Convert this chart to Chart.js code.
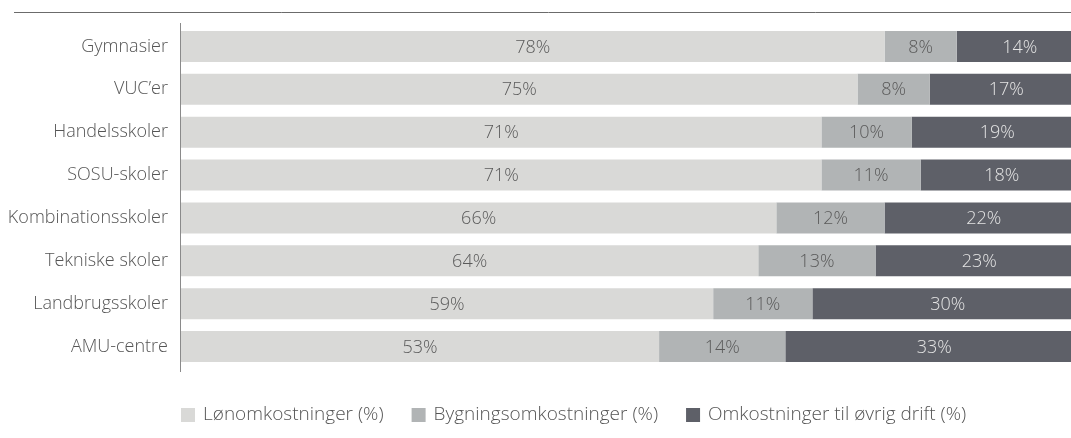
<!DOCTYPE html>
<html>
<head>
<meta charset="utf-8">
<script src="https://cdn.jsdelivr.net/npm/chart.js"></script>
<style>
  html, body { margin: 0; padding: 0; background: #fff; overflow: hidden; }
  #wrap { position: relative; width: 1071px; height: 438px; overflow: hidden; }
  canvas { position: absolute; left: 0; top: 0; }
</style>
</head>
<body>
<div id="wrap"><canvas id="chart" width="1083" height="438"></canvas></div>
<script>
// Chart data
var categories = ['Gymnasier', 'VUC\u2019er', 'Handelsskoler', 'SOSU-skoler', 'Kombinationsskoler', 'Tekniske skoler', 'Landbrugsskoler', 'AMU-centre'];
var seriesNames = ['Lønomkostninger (%)', 'Bygningsomkostninger (%)', 'Omkostninger til øvrig drift (%)'];
var loen = [78, 75, 71, 71, 66, 64, 59, 53];
var bygning = [8, 8, 10, 11, 12, 13, 11, 14];
var oevrig = [14, 17, 19, 18, 22, 23, 30, 33];

var colors = ['#d9d9d7', '#b1b4b5', '#5e6068'];
var labelColors = ['#5a5a5a', '#5a5a5a', '#e4e4e4'];
var fontFamily = '"Open Sans", sans-serif';

// Labels inside bars, axis line, top rule and legend
var decorPlugin = {
    id: 'decor',
    afterDatasetsDraw: function(chart) {
        var ctx = chart.ctx;
        ctx.save();
        ctx.font = '300 18px ' + fontFamily;
        ctx.textAlign = 'center';
        ctx.textBaseline = 'middle';
        chart.data.datasets.forEach(function(ds, di) {
            var meta = chart.getDatasetMeta(di);
            meta.data.forEach(function(bar, i) {
                var p = bar.getProps(['x', 'y', 'base'], true);
                ctx.fillStyle = labelColors[di];
                ctx.fillText(ds.data[i] + '%', (p.x + p.base) / 2, p.y + 1);
            });
        });
        ctx.restore();
    },
    afterDraw: function(chart) {
        var ctx = chart.ctx;
        var area = chart.chartArea;
        ctx.save();
        // top rule
        ctx.strokeStyle = '#6b6b6b';
        ctx.lineWidth = 1;
        ctx.beginPath();
        ctx.moveTo(14, 12.5);
        ctx.lineTo(chart.width, 12.5);
        ctx.stroke();

        // category axis line
        ctx.strokeStyle = '#8a8a8a';
        ctx.beginPath();
        ctx.moveTo(area.left - 0.5, area.top - 2);
        ctx.lineTo(area.left - 0.5, area.bottom + 4);
        ctx.stroke();

        // legend
        ctx.font = '300 19px ' + fontFamily;
        ctx.textBaseline = 'middle';
        ctx.textAlign = 'left';
        var x = area.left;
        var y = 415;
        chart.data.datasets.forEach(function(ds) {
            ctx.fillStyle = ds.backgroundColor;
            ctx.fillRect(x, y - 7, 14, 14);
            ctx.fillStyle = '#555';
            ctx.fillText(ds.label, x + 22, y);
            x += 22 + ctx.measureText(ds.label).width + 28;
        });
        ctx.restore();
    }
};

new Chart(document.getElementById('chart'), {
    type: 'bar',
    data: {
        labels: categories,
        datasets: [
            { label: seriesNames[0], data: loen, backgroundColor: colors[0] },
            { label: seriesNames[1], data: bygning, backgroundColor: colors[1] },
            { label: seriesNames[2], data: oevrig, backgroundColor: colors[2] }
        ]
    },
    options: {
        indexAxis: 'y',
        responsive: false,
        animation: false,
        layout: { padding: { top: 25, bottom: 70, left: 0, right: 0 } },
        datasets: { bar: { categoryPercentage: 1, barPercentage: 0.723, borderWidth: 0 } },
        scales: {
            x: { stacked: true, min: 0, max: 100, display: false },
            y: {
                stacked: true,
                afterFit: function(scale) { scale.width = 181; },
                grid: { display: false, drawTicks: false },
                border: { display: false },
                ticks: { padding: 13, color: '#555', font: { family: fontFamily, size: 18, weight: 300 } }
            }
        },
        plugins: {
            legend: { display: false },
            tooltip: { enabled: false }
        }
    },
    plugins: [decorPlugin]
});
</script>
</body>
</html>
